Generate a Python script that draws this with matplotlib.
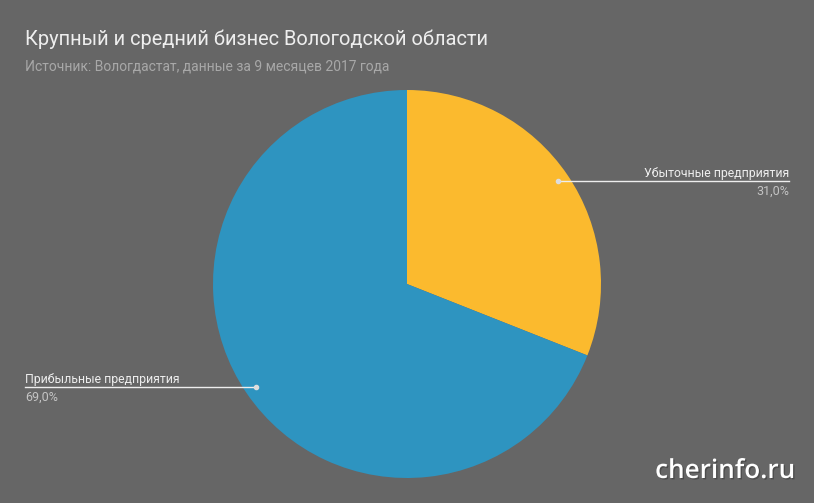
import numpy as np
import matplotlib.pyplot as plt
import matplotlib.patheffects as pe

# data
labels = ["Убыточные предприятия", "Прибыльные предприятия"]
shares = [31.0, 69.0]
colors = ["#fbba2e", "#2e94c0"]

W, H = 814, 503
BG = "#666666"

fig = plt.figure(figsize=(W / 100, H / 100), dpi=100, facecolor=BG)
plt.rcParams["font.family"] = ["Roboto", "DejaVu Sans"]

# pie axes: centre (407, 284), radius 194 px
cx, cy, r = 407, 284, 194
ax = fig.add_axes([(cx - r) / W, (H - cy - r) / H, 2 * r / W, 2 * r / H])
ax.set_facecolor(BG)
ax.pie(shares, colors=colors, startangle=90, counterclock=False,
       radius=1.0, wedgeprops=dict(linewidth=0))
ax.set_xlim(-1, 1)
ax.set_ylim(-1, 1)
ax.set_aspect("equal")
ax.axis("off")

# overlay axes in pixel coordinates for the labels
ov = fig.add_axes([0, 0, 1, 1], facecolor="none")
ov.set_xlim(0, W)
ov.set_ylim(H, 0)
ov.axis("off")

start = 90.0
for lab, val in zip(labels, shares):
    span = val / 100 * 360
    mid = np.deg2rad(start - span / 2)
    start -= span
    px = cx + 0.943 * r * np.cos(mid)
    py = cy - 0.943 * r * np.sin(mid)
    if np.cos(mid) > 0:
        xe, ha = 789, "right"
    else:
        xe, ha = 25, "left"
    ov.plot([px, xe], [py, py], color="#eeeeee", linewidth=1.0)
    ov.plot(px, py, "o", color="#dddddd", markersize=3)
    ov.text(xe, py - 4, lab, ha=ha, va="baseline", fontsize=8.8,
            color="#eeeeee")
    ov.text(xe, py + 14, ("%.1f%%" % val).replace(".", ","), ha=ha,
            va="baseline", fontsize=9, color="#c4c4c4")

ov.text(25, 45, "Крупный и средний бизнес Вологодской области",
        fontsize=14.4, color="#eeeeee", va="baseline")
ov.text(25, 70, "Источник: Вологдастат, данные за 9 месяцев 2017 года",
        fontsize=10, color="#a8a8a8", va="baseline")

ov.text(795, 478, "cherinfo.ru", ha="right", va="baseline",
        fontsize=18.8, color="white", weight="semibold",
        family=["Open Sans", "DejaVu Sans"],
        path_effects=[pe.withSimplePatchShadow(offset=(1, -1),
                                               shadow_rgbFace="#333333",
                                               alpha=0.5)])

fig.savefig("out.png", dpi=100, facecolor=BG)
